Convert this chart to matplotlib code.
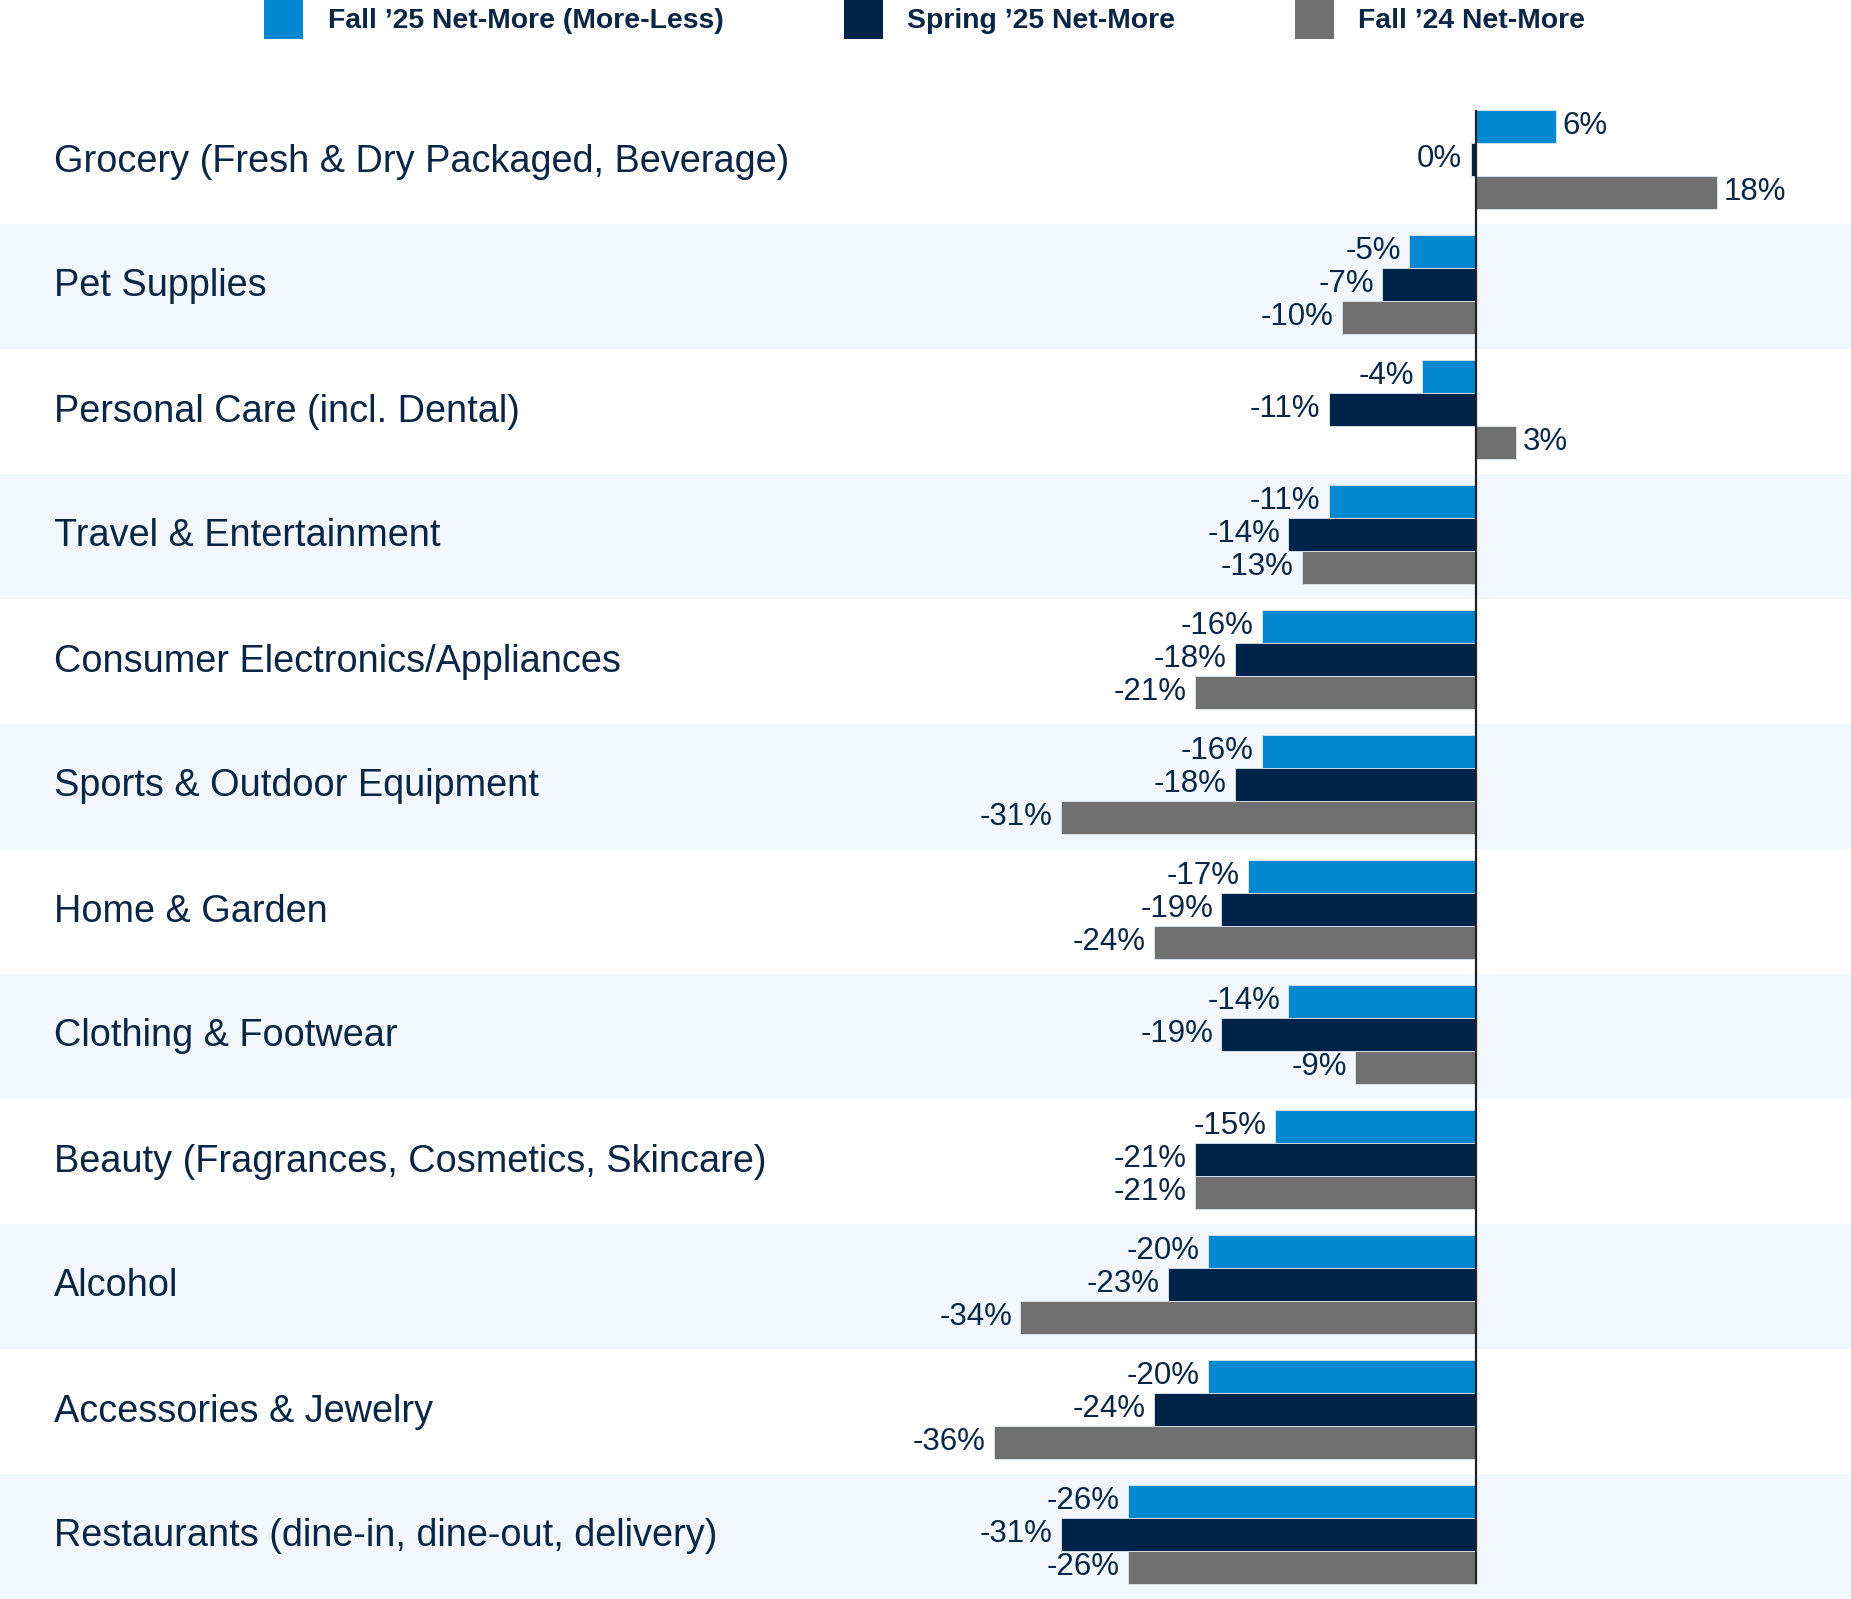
import matplotlib
matplotlib.use("Agg")
import matplotlib.pyplot as plt
from matplotlib.patches import Rectangle

plt.rcParams['font.family'] = ['Liberation Sans', 'DejaVu Sans']

categories = [
    "Grocery (Fresh & Dry Packaged, Beverage)",
    "Pet Supplies",
    "Personal Care (incl. Dental)",
    "Travel & Entertainment",
    "Consumer Electronics/Appliances",
    "Sports & Outdoor Equipment",
    "Home & Garden",
    "Clothing & Footwear",
    "Beauty (Fragrances, Cosmetics, Skincare)",
    "Alcohol",
    "Accessories & Jewelry",
    "Restaurants (dine-in, dine-out, delivery)",
]
fall25 = [6, -5, -4, -11, -16, -16, -17, -14, -15, -20, -20, -26]
spring25 = [-0.4, -7, -11, -14, -18, -18, -19, -19, -21, -23, -24, -31]
fall24 = [18, -10, 3, -13, -21, -31, -24, -9, -21, -34, -36, -26]
series_names = ["Fall \u201925 Net-More (More-Less)", "Spring \u201925 Net-More", "Fall \u201924 Net-More"]
series_colors = ["#0288D1", "#002349", "#707070"]

W, H = 1851, 1599
fig = plt.figure(figsize=(W / 100, H / 100), dpi=100)
top_px = 99
ax = fig.add_axes([0, 0, 1, 1 - top_px / H])
zero_px = 1476
ppu = 13.4
ax.set_xlim(-zero_px / ppu, (W - zero_px) / ppu)
n = len(categories)
ax.set_ylim(n - 0.5, -0.5)
ax.axis('off')

text_color = "#0B2545"
band_color = "#F1F7FD"
for i in range(n):
    if i % 2 == 1:
        ax.axhspan(i - 0.5, i + 0.5, color=band_color, zorder=0, lw=0)

bh = 0.264
offs = [-bh, 0, bh]
shift = -0.02
all_series = [fall25, spring25, fall24]
for s, (vals, col) in enumerate(zip(all_series, series_colors)):
    ys = [i + shift + offs[s] for i in range(n)]
    ax.barh(ys, vals, height=bh, color=col, edgecolor="#dfe6ee", linewidth=0.6, zorder=2)
    for y, v in zip(ys, vals):
        lab = f"{int(round(v))}%"
        if v > 0:
            ax.annotate(lab, (v, y), xytext=(4.5, 0), textcoords='offset points',
                        ha='left', va='center', fontsize=22.5, color=text_color, zorder=3)
        else:
            ax.annotate(lab, (v, y), xytext=(-6, 0), textcoords='offset points',
                        ha='right', va='center', fontsize=22.5, color=text_color, zorder=3)

ytop = 0 + shift + offs[0] - bh / 2
ybot = (n - 1) + shift + offs[2] + bh / 2
ax.vlines(0, ytop, ybot, color="#222222", linewidth=1.6, zorder=4)

for i, c in enumerate(categories):
    ax.text(54 / W, i, c, transform=ax.get_yaxis_transform(), ha='left', va='center',
            fontsize=27.3, color=text_color)

# legend
leg_patch_x = [264, 844, 1295]
leg_text_x = [328, 907, 1358]
for px, tx, name, col in zip(leg_patch_x, leg_text_x, series_names, series_colors):
    fig.patches.append(Rectangle((px / W, 1 - 39 / H), 39 / W, 39 / H, transform=fig.transFigure,
                                 color=col, lw=0))
    fig.text(tx / W, 1 - 21 / H, name, ha='left', va='center', fontsize=20.4,
             fontweight='bold', color=text_color)

fig.savefig("out.png", dpi=100)
